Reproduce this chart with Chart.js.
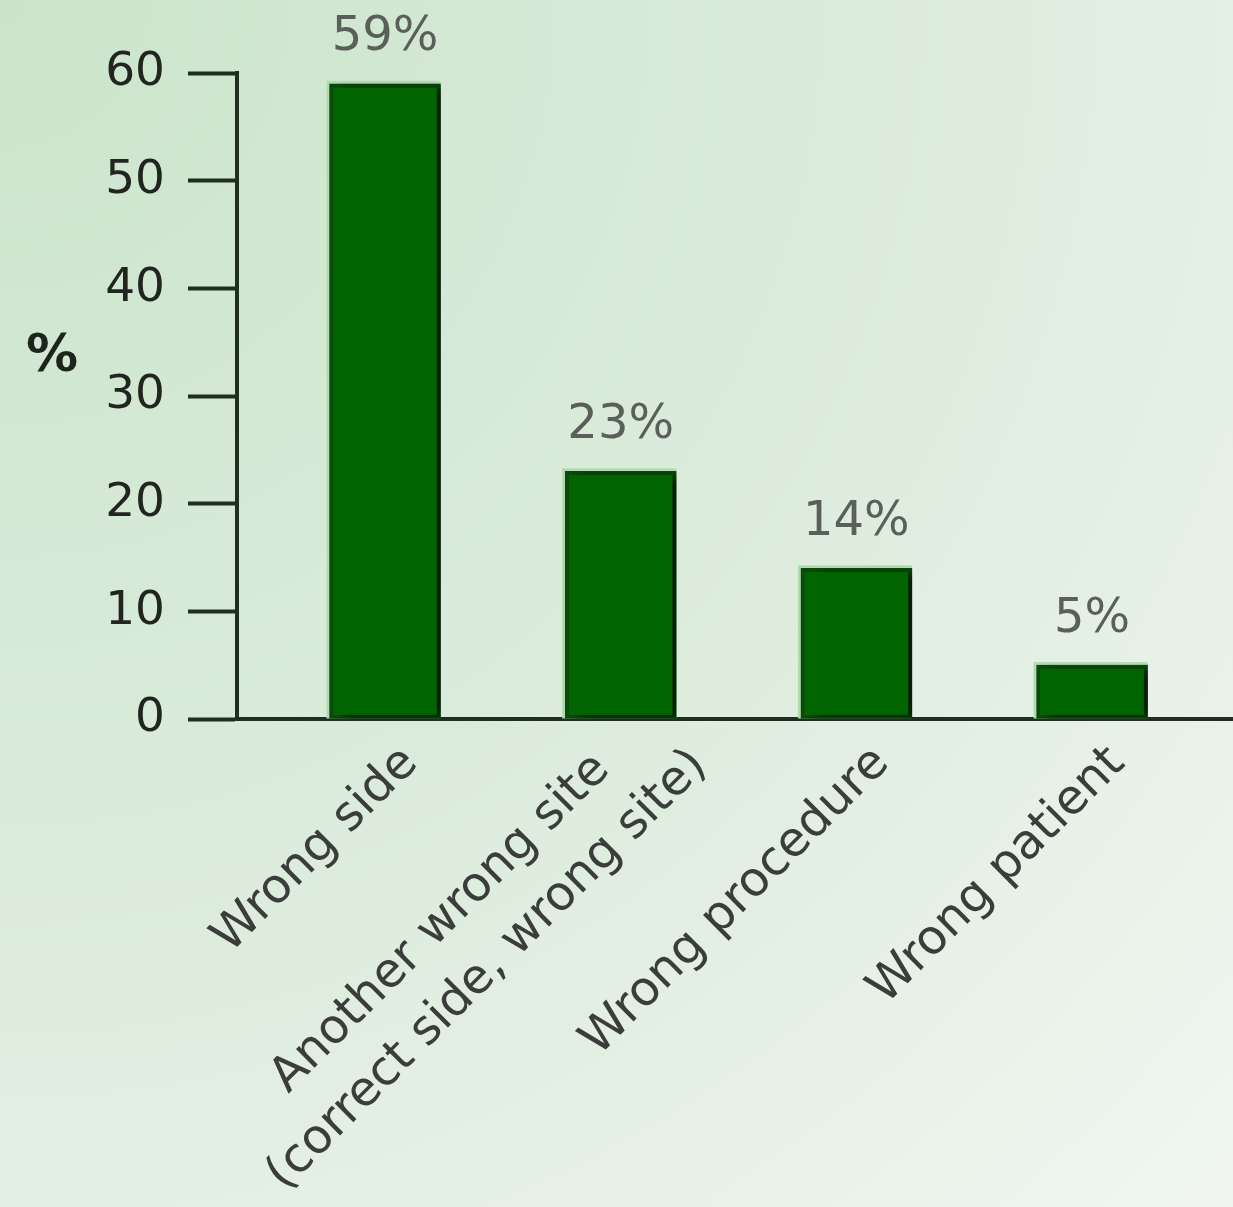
<!DOCTYPE html>
<html>
<head>
<meta charset="utf-8">
<script src="https://cdn.jsdelivr.net/npm/chart.js@4.4.1/dist/chart.umd.min.js"></script>
<style>
  html, body { margin: 0; padding: 0; background: #e2efe2; }
  #wrap { width: 1233px; height: 1207px; position: relative; }
</style>
</head>
<body>
<div id="wrap"><canvas id="chart"></canvas></div>
<script>
// data
const categories = [
    'Wrong side',
    ['Another wrong site', '(correct side, wrong site)'],
    'Wrong procedure',
    'Wrong patient'
];
const shares = [59, 23, 14, 5];
const yMin = 0;
const yMax = 60;
const yStep = 10;
const yTitle = '%';

const axisColor = '#1f2e1f';
const fontFamily = "'DejaVu Sans', Verdana, sans-serif";

// background + bar shadows + value labels + rotated category labels
const decoPlugin = {
    id: 'deco',
    beforeDraw(chart) {
        const { ctx, width, height } = chart;
        const g = ctx.createRadialGradient(0, 0, 0, 0, 0, Math.hypot(width, height));
        g.addColorStop(0, '#cbe4cb');
        g.addColorStop(0.55, '#ddecdd');
        g.addColorStop(1, '#f1f6f1');
        ctx.save();
        ctx.fillStyle = g;
        ctx.fillRect(0, 0, width, height);
        ctx.restore();
    },
    beforeDatasetsDraw(chart) {
        const ctx = chart.ctx;
        const meta = chart.getDatasetMeta(0);
        // light rim on the left / top edge of every bar
        ctx.save();
        ctx.fillStyle = '#aedcae';
        meta.data.forEach(bar => {
            const p = bar.getProps(['x', 'y', 'base', 'width'], true);
            ctx.fillRect(p.x - p.width / 2 - 3, p.y - 3, p.width + 3, p.base - p.y + 3);
        });
        ctx.restore();
        ctx.save();
        ctx.shadowColor = 'rgba(0, 0, 0, 0.6)';
        ctx.shadowBlur = 9;
        ctx.shadowOffsetX = 10;
        ctx.shadowOffsetY = 2;
    },
    afterDatasetsDraw(chart) {
        const ctx = chart.ctx;
        ctx.restore();

        const meta = chart.getDatasetMeta(0);
        ctx.save();
        ctx.font = '48px ' + fontFamily;
        ctx.fillStyle = '#5a5f5a';
        ctx.textAlign = 'center';
        ctx.textBaseline = 'middle';
        meta.data.forEach((bar, i) => {
            ctx.fillText(shares[i] + '%', bar.x, bar.y - 46);
        });
        ctx.restore();
    },
    afterDraw(chart) {
        const ctx = chart.ctx;
        const area = chart.chartArea;
        const xs = chart.scales.x;

        // category labels, 45 degrees, lines centred on each other
        ctx.save();
        ctx.font = '48px ' + fontFamily;
        ctx.fillStyle = '#3a3d3a';
        ctx.textAlign = 'center';
        ctx.textBaseline = 'middle';
        const lh = 66;
        categories.forEach((cat, i) => {
            const lines = Array.isArray(cat) ? cat : [cat];
            const n = lines.length;
            const maxW = Math.max(...lines.map(l => ctx.measureText(l).width));
            ctx.save();
            ctx.translate(xs.getPixelForValue(i), area.bottom);
            ctx.rotate(-Math.PI / 4);
            lines.forEach((line, j) => {
                ctx.fillText(line, -maxW / 2 - 8 + (n - 1) * 36, 44 + (j - (n - 1) * 0.4) * lh);
            });
            ctx.restore();
        });
        ctx.restore();

        // upright y title
        ctx.save();
        ctx.font = 'bold 52px ' + fontFamily;
        ctx.fillStyle = '#1c241c';
        ctx.textAlign = 'center';
        ctx.textBaseline = 'middle';
        ctx.fillText(yTitle, 52, area.top + (area.bottom - area.top) * 0.44);
        ctx.restore();
    }
};

const ctx = document.getElementById('chart').getContext('2d');
const chart = new Chart(ctx, {
    type: 'bar',
    data: {
        datasets: [{
            label: 'Share',
            data: shares.map((v, i) => ({ x: i, y: v })),
            backgroundColor: '#006400',
            borderColor: '#0b4a0b',
            borderWidth: 4,
            borderSkipped: false,
            barThickness: 111
        }]
    },
    options: {
        responsive: true,
        maintainAspectRatio: false,
        animation: false,
        layout: {
            padding: { top: 73, right: 0, bottom: 0, left: 0 }
        },
        plugins: {
            legend: { display: false },
            tooltip: { enabled: false },
            title: { display: false }
        },
        scales: {
            x: {
                type: 'linear',
                offset: false,
                min: -0.628,
                max: 3.598,
                ticks: { display: false },
                grid: { display: true, offset: false, drawOnChartArea: false, drawTicks: false },
                border: { display: true, color: axisColor, width: 4 },
                afterFit: scale => { scale.height = 488; }
            },
            y: {
                min: yMin,
                max: yMax,
                ticks: {
                    stepSize: yStep,
                    color: '#202520',
                    padding: 23,
                    font: { family: fontFamily, size: 47 }
                },
                grid: {
                    drawOnChartArea: false,
                    drawTicks: true,
                    tickLength: 49,
                    tickWidth: 4,
                    tickColor: axisColor
                },
                border: { display: true, color: axisColor, width: 4 },
                afterFit: scale => { scale.width = 237; }
            }
        }
    },
    plugins: [decoPlugin]
});
</script>
</body>
</html>
